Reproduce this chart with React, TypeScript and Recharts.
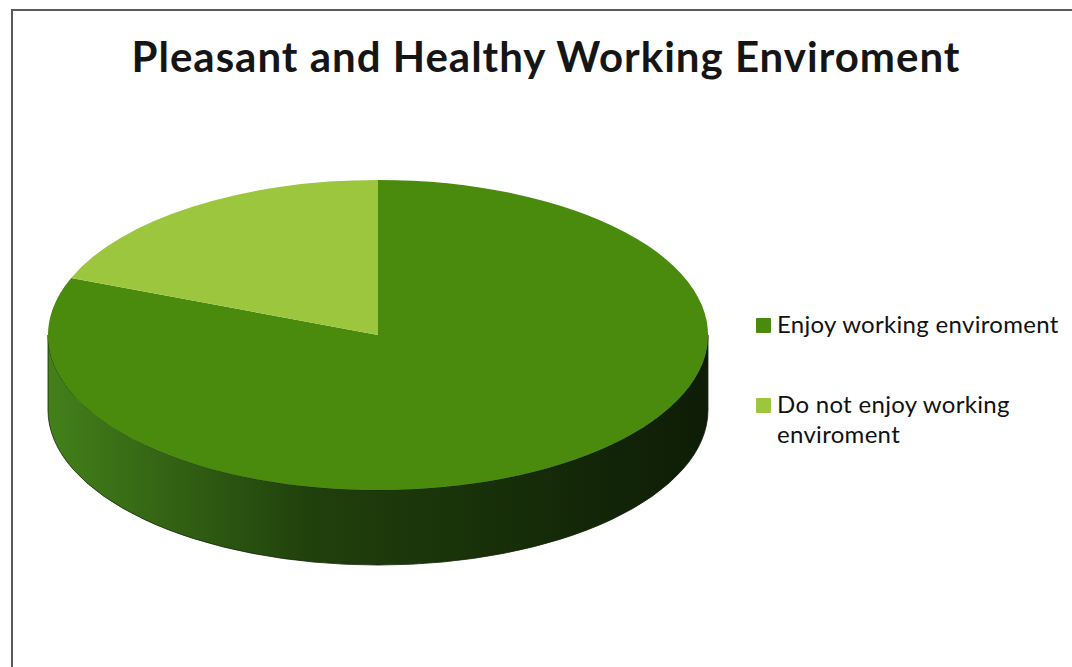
import React from 'react';
import { PieChart, Pie, Cell, Legend } from 'recharts';

// answers from the survey chart
const LABELS = ['Enjoy working enviroment', 'Do not enjoy working enviroment'];
const SHARES = [81, 19];
const COLORS = ['#4a8a0c', '#9cc63e'];

const TITLE = 'Pleasant and Healthy Working Enviroment';

const data = LABELS.map((name, i) => ({ name, value: SHARES[i] }));

// fake 3d: flatten the disc and give it a front wall
const SQUASH = 0.47;
const DEPTH = 75;
const RAD = Math.PI / 180;

const pt = (cx: number, cy: number, rx: number, ry: number, a: number) =>
  `${cx + rx * Math.cos(a * RAD)},${cy - ry * Math.sin(a * RAD)}`;

const Slice3D = (props: any) => {
  const { cx, cy, outerRadius, startAngle, endAngle, fill } = props;
  const rx = outerRadius;
  const ry = outerRadius * SQUASH;
  const hi = Math.max(startAngle, endAngle);
  const lo = Math.min(startAngle, endAngle);
  const large = hi - lo > 180 ? 1 : 0;

  const walls: string[] = [];
  for (const k of [-360, 0, 360]) {
    const a = Math.max(lo, -180 + k);
    const b = Math.min(hi, k);
    if (b > a) {
      walls.push(
        `M${pt(cx, cy, rx, ry, b)} A${rx},${ry} 0 0 1 ${pt(cx, cy, rx, ry, a)}` +
          ` L${pt(cx, cy + DEPTH, rx, ry, a)} A${rx},${ry} 0 0 0 ${pt(cx, cy + DEPTH, rx, ry, b)} Z`
      );
    }
  }

  return (
    <g>
      {walls.map((d, i) => (
        <path key={i} d={d} fill="url(#sideGrad)" stroke="#14260a" strokeWidth={0.8} />
      ))}
      <path
        d={`M${cx},${cy} L${pt(cx, cy, rx, ry, hi)} A${rx},${ry} 0 ${large} 1 ${pt(cx, cy, rx, ry, lo)} Z`}
        fill={fill}
        stroke="none"
      />
    </g>
  );
};

// keep the legend in data order (recharts hands the pie payload over reversed here)
const LegendBox = ({ payload }: any) => {
  const colorOf = (name: string, i: number) => {
    const hit = (payload || []).find((p: any) => p.value === name);
    return hit && hit.color ? hit.color : COLORS[i];
  };
  return (
    <div style={{ fontFamily: 'Lato, sans-serif', fontSize: 24, letterSpacing: 0.3, lineHeight: '30px', color: '#111' }}>
      {LABELS.map((name, i) => (
        <div key={name} style={{ position: 'relative', paddingLeft: 21, marginBottom: i === 0 ? 50 : 0 }}>
          <span
            style={{
              position: 'absolute', left: 0, top: 9, width: 15, height: 15,
              background: colorOf(name, i), borderRadius: 1,
            }}
          />
          {name}
        </div>
      ))}
    </div>
  );
};

export default function App() {
  return (
    <div style={{ position: 'absolute', left: 0, top: 0, width: 1072, height: 667, background: '#fff', overflow: 'hidden' }}>
      <div
        style={{
          position: 'absolute', left: 11, top: 9, right: 0, bottom: 0,
          borderTop: '2px solid #5a5a5a', borderLeft: '2px solid #5a5a5a',
        }}
      />
      <div
        style={{
          position: 'absolute', left: 46, top: 31, width: 1000, textAlign: 'center',
          fontFamily: 'Lato, sans-serif', fontWeight: 700, fontSize: 42, letterSpacing: 1,
          lineHeight: '50px', color: '#151515',
        }}
      >
        {TITLE}
      </div>
      <div style={{ position: 'absolute', left: 0, top: 0 }}>
        <PieChart width={1072} height={667} margin={{ top: 0, right: 0, bottom: 0, left: 0 }}>
          <defs>
            <linearGradient id="sideGrad" gradientUnits="userSpaceOnUse" x1={48} y1={0} x2={708} y2={0}>
              <stop offset="0" stopColor="#43801a" />
              <stop offset="0.4" stopColor="#20400c" />
              <stop offset="1" stopColor="#0e1c06" />
            </linearGradient>
          </defs>
          <Pie
            data={data}
            dataKey="value"
            nameKey="name"
            cx={378}
            cy={335}
            outerRadius={330}
            startAngle={90}
            endAngle={-270}
            stroke="none"
            shape={Slice3D}
            isAnimationActive={false}
          >
            {data.map((d, i) => (
              <Cell key={d.name} fill={COLORS[i]} />
            ))}
          </Pie>
          <Legend
            layout="vertical"
            align="right"
            verticalAlign="top"
            wrapperStyle={{ left: 756, top: 309, width: 310 }}
            content={<LegendBox />}
          />
        </PieChart>
      </div>
    </div>
  );
}
